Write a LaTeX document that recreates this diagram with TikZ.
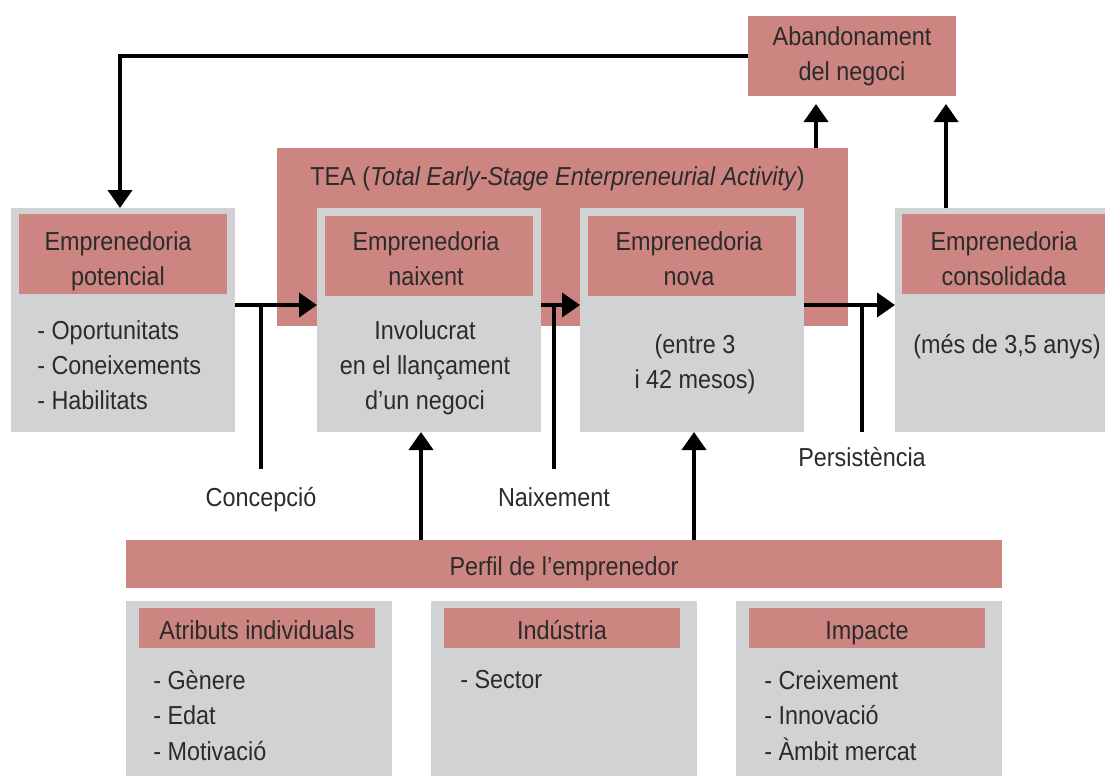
\documentclass[tikz,border=0pt]{standalone}
\usepackage{fontspec}
\setmainfont{Liberation Sans}[FakeStretch=0.9]
\usetikzlibrary{arrows.meta}
\definecolor{rosa}{HTML}{CC8580}
\definecolor{gris}{HTML}{D1D2D4}
\definecolor{tinta}{HTML}{2B2B2B}
\newcommand\pxu{0.75pt}
\begin{document}
\begin{tikzpicture}[x=0.75pt,y=-0.75pt,
  font=\fontsize{19.5}{26.25}\selectfont,
  text=tinta,
  panel/.style={fill=gris, inner sep=0pt, outer sep=0pt},
  band/.style={fill=rosa, inner sep=0pt, outer sep=0pt},
  capt/.style={text height=17pt, text depth=0pt},
  txt/.style={inner sep=0pt},
  flow/.style={draw=black, line width=3pt, -{Triangle[length=13.5pt,width=18pt]}},
  rule/.style={draw=black, line width=3pt},
  ]
\useasboundingbox (0,0) rectangle (1105,776);

% TEA block
\node[band, minimum width=571*\pxu, minimum height=178*\pxu] (tea) at (562.5,237) {};
\node[txt, anchor=base west] (teat) at (310,185)
  {TEA (\textit{Total Early-Stage Enterpreneurial Activity})};

% exit box
\node[band, minimum width=208*\pxu, minimum height=80*\pxu, align=center] (aband) at (852,56)
  {Abandonament\\del negoci};

% stage panels
\node[panel, minimum width=224*\pxu, minimum height=224*\pxu] (pot) at (123,320) {};
\node[band, minimum width=208*\pxu, minimum height=80*\pxu] (potH) at (123,254) {};
\node[txt, anchor=north, align=center] (potHt) at (118,231) {Emprenedoria\\potencial};
\node[txt, anchor=north west, align=left] (potL) at (37,320)
  {- Oportunitats\\- Coneixements\\- Habilitats};

\node[panel, minimum width=224*\pxu, minimum height=224*\pxu] (naix) at (429,320) {};
\node[band, minimum width=208*\pxu, minimum height=80*\pxu] (naixH) at (429,256) {};
\node[txt, anchor=north, align=center] (naixHt) at (426,231) {Emprenedoria\\naixent};
\node[txt, anchor=north, align=center] (naixL) at (425,320)
  {Involucrat\\en el llançament\\d’un negoci};

\node[panel, minimum width=224*\pxu, minimum height=224*\pxu] (nova) at (692,320) {};
\node[band, minimum width=208*\pxu, minimum height=80*\pxu] (novaH) at (692,256) {};
\node[txt, anchor=north, align=center] (novaHt) at (689,231) {Emprenedoria\\nova};
\node[txt, anchor=north, align=center] (novaL) at (695,334) {(entre 3\\i 42 mesos)};

\node[panel, minimum width=210*\pxu, minimum height=224*\pxu] (cons) at (1000,320) {};
\node[band, minimum width=203*\pxu, minimum height=80*\pxu] (consH) at (1003.5,254) {};
\node[txt, anchor=north, align=center] (consHt) at (1004,231) {Emprenedoria\\consolidada};
\node[txt, anchor=base] (consL) at (1007,353) {(més de 3,5 anys)};

% profile bar
\node[band, capt, minimum width=876*\pxu, minimum height=48*\pxu] (perfil) at (564,564)
  {Perfil de l’emprenedor};

% profile panels
\node[panel, minimum width=266*\pxu, minimum height=175*\pxu] (atr) at (259,688.5) {};
\node[band, capt, minimum width=236*\pxu, minimum height=40*\pxu] (atrH) at (257,628)
  {Atributs individuals};
\node[txt, anchor=north west, align=left, font=\fontsize{19.5}{26.6}\selectfont] (atrL) at (153,670)
  {- Gènere\\- Edat\\- Motivació};

\node[panel, minimum width=266*\pxu, minimum height=175*\pxu] (ind) at (564,688.5) {};
\node[band, capt, minimum width=236*\pxu, minimum height=40*\pxu] (indH) at (562,628)
  {Indústria};
\node[txt, anchor=north west, align=left] (indL) at (460,670) {- Sector};

\node[panel, minimum width=266*\pxu, minimum height=175*\pxu] (imp) at (869,688.5) {};
\node[band, capt, minimum width=236*\pxu, minimum height=40*\pxu] (impH) at (867,628)
  {Impacte};
\node[txt, anchor=north west, align=left, font=\fontsize{19.5}{26.6}\selectfont] (impL) at (764,670)
  {- Creixement\\- Innovació\\- Àmbit mercat};

% transition labels
\node[txt, anchor=base] (conc) at (261,506) {Concepció};
\node[txt, anchor=base] (naixl) at (554,506) {Naixement};
\node[txt, anchor=base] (pers) at (862,466) {Persistència};

% helper levels
\coordinate (lvl) at (0,305);
\coordinate (u1) at (421,0);
\coordinate (u2) at (694,0);
\coordinate (a1) at (816,0);
\coordinate (a2) at (946,0);

% stage flow
\draw[flow] (pot.east |- lvl) -- (naix.west |- lvl);
\draw[flow] (naix.east |- lvl) -- (nova.west |- lvl);
\draw[flow] (nova.east |- lvl) -- (cons.west |- lvl);

% transition ticks
\draw[rule] (conc.north |- lvl) -- ([yshift=13.5pt]conc.north);
\draw[rule] (naixl.north |- lvl) -- ([yshift=13.5pt]naixl.north);
\draw[rule] (pers.north |- lvl) -- (pers.north |- cons.south);

% profile influences
\draw[flow] (perfil.north -| u1) -- (naix.south -| u1);
\draw[flow] (perfil.north -| u2) -- (nova.south -| u2);

% exits and loop back
\draw[flow, shorten >=6pt] (tea.north -| a1) -- (aband.south -| a1);
\draw[flow, shorten >=6pt] (cons.north -| a2) -- (aband.south -| a2);
\draw[flow] (aband.west) -| ([xshift=-2.25pt]pot.north);
\end{tikzpicture}
\end{document}
